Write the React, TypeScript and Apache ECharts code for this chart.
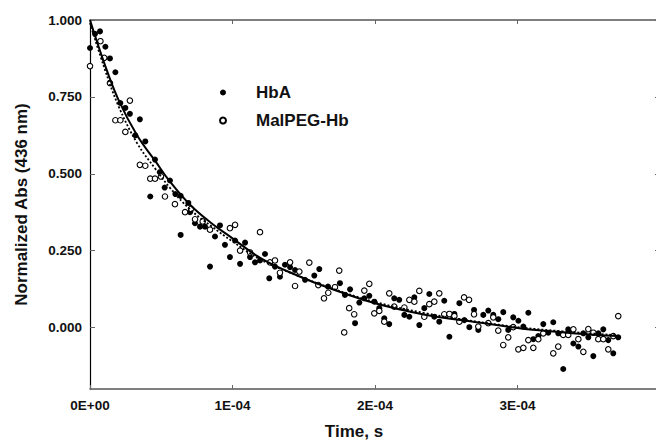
import React, { useEffect, useRef } from "react";
import * as echarts from "echarts";

// Time values in units of 1E-04 s
const hbaTime = [0, 0.035, 0.07, 0.108, 0.14, 0.178, 0.213, 0.248, 0.28, 0.318, 0.35, 0.388, 0.423, 0.456, 0.491, 0.524, 0.561, 0.599, 0.636, 0.636, 0.69, 0.702, 0.737, 0.772, 0.807, 0.842, 0.877, 0.912, 0.947, 0.982, 1.018, 1.053, 1.088, 1.123, 1.158, 1.193, 1.228, 1.258, 1.298, 1.333, 1.368, 1.404, 1.439, 1.509, 1.574, 1.609, 1.67, 1.754, 1.789, 1.825, 1.86, 1.89, 1.925, 1.96, 1.995, 2.03, 2.065, 2.1, 2.135, 2.17, 2.206, 2.241, 2.276, 2.311, 2.346, 2.381, 2.416, 2.451, 2.486, 2.522, 2.557, 2.592, 2.627, 2.662, 2.695, 2.725, 2.76, 2.795, 2.83, 2.865, 2.9, 2.935, 2.97, 3.006, 3.041, 3.076, 3.111, 3.146, 3.181, 3.216, 3.251, 3.286, 3.321, 3.356, 3.392, 3.427, 3.462, 3.497, 3.532, 3.567, 3.602, 3.637, 3.672, 3.707];
const hbaValue = [0.909, 0.955, 0.963, 0.913, 0.875, 0.83, 0.73, 0.714, 0.695, 0.625, 0.677, 0.605, 0.426, 0.546, 0.505, 0.455, 0.478, 0.434, 0.428, 0.301, 0.405, 0.375, 0.339, 0.328, 0.328, 0.198, 0.296, 0.332, 0.269, 0.229, 0.283, 0.207, 0.276, 0.229, 0.212, 0.218, 0.239, 0.16, 0.198, 0.165, 0.204, 0.196, 0.187, 0.155, 0.169, 0.19, 0.133, 0.144, 0.106, 0.124, 0.014, 0.081, 0.095, 0.103, 0.084, 0.063, 0.03, 0.011, 0.095, 0.09, 0.041, 0.035, 0.098, 0.008, 0.063, 0.109, 0.035, 0.019, 0.087, -0.03, 0.044, 0.079, 0.024, 0.001, 0.057, -0.008, 0.041, 0.055, 0.041, 0.027, 0.05, -0.008, 0.033, 0.022, 0.003, 0.048, -0.038, -0.028, 0.011, -0.017, 0.017, -0.019, -0.135, -0.006, -0.052, -0.062, -0.019, -0.032, -0.093, -0.019, -0.006, -0.041, -0.084, -0.032];

const malTime = [0, 0.073, 0.1, 0.14, 0.178, 0.213, 0.248, 0.28, 0.35, 0.388, 0.423, 0.456, 0.498, 0.526, 0.596, 0.667, 0.709, 0.737, 0.791, 0.842, 0.982, 1.018, 1.053, 1.123, 1.193, 1.263, 1.298, 1.333, 1.404, 1.439, 1.469, 1.539, 1.602, 1.642, 1.672, 1.719, 1.749, 1.784, 1.819, 1.854, 1.925, 1.96, 1.995, 2.03, 2.065, 2.1, 2.135, 2.206, 2.241, 2.276, 2.311, 2.346, 2.381, 2.416, 2.451, 2.486, 2.522, 2.557, 2.592, 2.625, 2.66, 2.695, 2.725, 2.795, 2.83, 2.865, 2.9, 2.935, 2.97, 3.006, 3.041, 3.076, 3.111, 3.146, 3.181, 3.251, 3.286, 3.321, 3.356, 3.392, 3.427, 3.462, 3.497, 3.532, 3.567, 3.602, 3.637, 3.672, 3.707];
const malValue = [0.85, 0.931, 0.877, 0.795, 0.674, 0.674, 0.636, 0.738, 0.529, 0.526, 0.484, 0.484, 0.491, 0.426, 0.401, 0.375, 0.386, 0.352, 0.345, 0.318, 0.323, 0.334, 0.25, 0.244, 0.31, 0.212, 0.218, 0.178, 0.212, 0.135, 0.182, 0.211, 0.138, 0.095, 0.113, 0.131, 0.185, -0.016, 0.063, 0.043, 0.12, 0.142, 0.046, 0.054, 0.019, 0.111, 0.068, 0.065, 0.09, 0.084, 0.119, 0.035, 0.076, 0.084, 0.111, 0.043, 0.044, 0.037, 0.019, 0.098, 0.09, 0.043, 0.003, 0.014, 0.033, -0.01, -0.057, -0.032, 0.001, -0.071, -0.066, -0.041, -0.066, -0.038, -0.019, -0.084, -0.062, -0.024, -0.024, -0.006, -0.038, -0.079, -0.005, -0.017, -0.038, -0.038, -0.071, -0.028, 0.037];

// Fitted curves
const hbaFitTime = [0, 0.1, 0.2, 0.33, 0.46, 0.56, 0.7, 0.85, 1.0, 1.2, 1.45, 1.68, 2.0, 2.36, 2.7, 3.13, 3.7];
const hbaFitValue = [1.0, 0.86, 0.74, 0.625, 0.54, 0.475, 0.4, 0.34, 0.29, 0.225, 0.17, 0.128, 0.079, 0.041, 0.018, -0.008, -0.028];
const malFitTime = [0, 0.1, 0.2, 0.33, 0.46, 0.56, 0.7, 0.85, 1.0, 1.2, 1.45, 1.68, 2.0, 2.36, 2.7, 3.13, 3.7];
const malFitValue = [0.99, 0.845, 0.72, 0.6, 0.515, 0.455, 0.385, 0.33, 0.28, 0.22, 0.17, 0.13, 0.083, 0.046, 0.02, -0.005, -0.025];

const xTickValues = [0, 1, 2, 3];
const xTickLabels = ["0E+00", "1E-04", "2E-04", "3E-04"];
const yTickValues = [0, 0.25, 0.5, 0.75, 1.0];
const yTickLabels = ["0.000", "0.250", "0.500", "0.750", "1.000"];

const seriesNames = ["HbA", "MalPEG-Hb"];
const xAxisName = "Time, s";
const yAxisName = "Normalized Abs (436 nm)";

const SCALE = 1e-4;
const FONT = "'Liberation Sans', Arial, sans-serif";

function pairs(t: number[], v: number[]) {
  return t.map((x, i) => [x * SCALE, v[i]]);
}

export default function App() {
  const ref = useRef<HTMLDivElement>(null);
  useEffect(() => {
    if (!ref.current) return;
    const chart = echarts.init(ref.current, null, { renderer: "svg" });
    const tickLabelStyle = { fontFamily: FONT, fontWeight: "bold" as const, fontSize: 13.5, color: "#111" };
    chart.setOption({
      animation: false,
      backgroundColor: "#fff",
      grid: { left: 90, top: 20, width: 570, height: 369, containLabel: false, outerBoundsMode: "none" },
      legend: {
        orient: "vertical",
        left: 214,
        top: 79,
        itemWidth: 6,
        itemHeight: 6,
        itemGap: 11,
        data: seriesNames,
        textStyle: { fontFamily: FONT, fontWeight: "bold", fontSize: 17, color: "#111", padding: [0, 0, 0, 25] },
      },
      xAxis: [
        {
          type: "value",
          min: 0,
          max: 4 * SCALE,
          interval: SCALE,
          position: "bottom",
          name: xAxisName,
          nameLocation: "middle",
          nameGap: 34,
          nameTextStyle: { fontFamily: FONT, fontWeight: "bold", fontSize: 17, color: "#111", padding: [0, 42, 0, 0] },
          axisLine: { show: true, onZero: false, lineStyle: { color: "#555", width: 1.5 } },
          axisTick: { show: true, inside: true, length: 4, lineStyle: { color: "#666" } },
          axisLabel: {
            ...tickLabelStyle,
            margin: 9,
            showMaxLabel: false,
            formatter: (v: number) => {
              const idx = xTickValues.findIndex((x) => Math.abs(x * SCALE - v) < SCALE * 1e-6);
              return idx >= 0 ? xTickLabels[idx] : "";
            },
          },
          splitLine: { show: false },
        },
        {
          type: "value",
          min: 0,
          max: 4 * SCALE,
          interval: SCALE,
          position: "top",
          axisLine: { show: true, onZero: false, lineStyle: { color: "#555", width: 1.5 } },
          axisTick: { show: true, inside: true, length: 4, lineStyle: { color: "#666" } },
          axisLabel: { show: false },
          splitLine: { show: false },
        },
      ],
      yAxis: [
        {
          type: "value",
          min: -0.2,
          max: 1.0,
          position: "left",
          name: yAxisName,
          nameLocation: "middle",
          nameGap: 60,
          nameTextStyle: { fontFamily: FONT, fontWeight: "bold", fontSize: 17, color: "#111" },
          axisLine: { show: true, onZero: false, lineStyle: { color: "#000", width: 1.2 } },
          axisTick: { show: true, inside: true, length: 5, lineStyle: { color: "#666" }, customValues: yTickValues },
          axisLabel: {
            ...tickLabelStyle,
            margin: 8,
            customValues: yTickValues,
            formatter: (v: number) => {
              const idx = yTickValues.findIndex((y) => Math.abs(y - v) < 1e-6);
              return idx >= 0 ? yTickLabels[idx] : "";
            },
          },
          splitLine: { show: false },
        },
        {
          type: "value",
          min: -0.2,
          max: 1.0,
          position: "right",
          axisLine: { show: true, onZero: false, lineStyle: { color: "#555", width: 1.5 } },
          axisTick: { show: true, inside: true, length: 5, lineStyle: { color: "#666" }, customValues: yTickValues },
          axisLabel: { show: false },
          splitLine: { show: false },
        },
      ],
      series: [
        {
          name: seriesNames[0],
          type: "scatter",
          symbol: "circle",
          symbolSize: 6,
          itemStyle: { color: "#000", opacity: 1 },
          data: pairs(hbaTime, hbaValue),
          z: 3,
        },
        {
          name: seriesNames[1],
          type: "scatter",
          symbol: "circle",
          symbolSize: 5.5,
          itemStyle: { color: "#fff", borderColor: "#000", borderWidth: 1.1, opacity: 1 },
          data: pairs(malTime, malValue),
          z: 3,
        },
        {
          name: "HbA fit",
          type: "line",
          smooth: 0.4,
          showSymbol: false,
          symbol: "none",
          lineStyle: { color: "#000", width: 2 },
          data: pairs(hbaFitTime, hbaFitValue),
          z: 4,
        },
        {
          name: "MalPEG-Hb fit",
          type: "line",
          smooth: 0.4,
          showSymbol: false,
          symbol: "none",
          lineStyle: { color: "#000", width: 1.8, type: [2, 2] },
          data: pairs(malFitTime, malFitValue),
          z: 4,
        },
      ],
    });
    return () => chart.dispose();
  }, []);
  return <div ref={ref} style={{ position: "fixed", left: 0, top: 0, width: 656, height: 442 }} />;
}
